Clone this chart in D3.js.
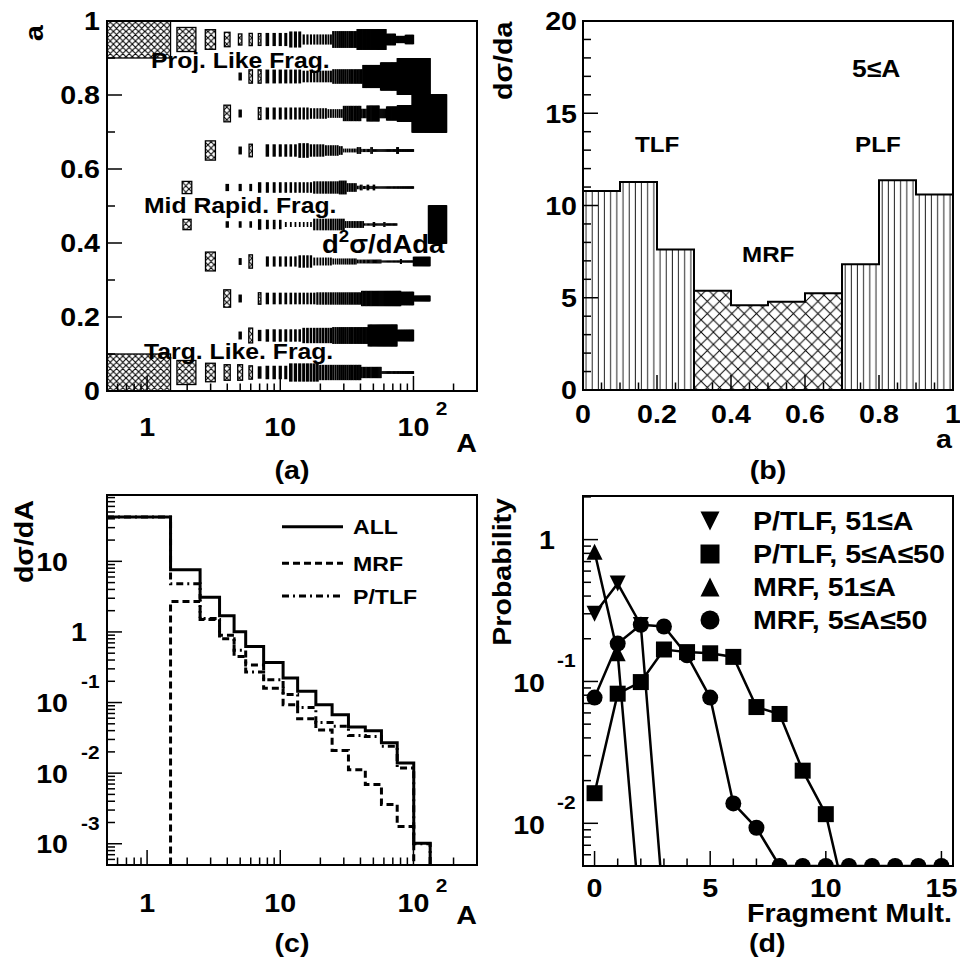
<!DOCTYPE html>
<html><head><meta charset="utf-8">
<script src="https://cdn.jsdelivr.net/npm/d3@7"></script>
<style>
body{margin:0;background:#fff}
svg{display:block}
text{font-family:"Liberation Sans",Arial,Helvetica,sans-serif;font-weight:bold;fill:#000}
</style>
</head><body>
<svg id="c" width="960" height="968"></svg>
<script>
// ---------------- DATA ----------------
// Panel (a): 2D box histogram, rows = a-bin centres, runs = [A from, A to, relative box size]
const aRowCentres = [0.05,0.15,0.25,0.35,0.45,0.55,0.65,0.75,0.85,0.95];
const row005 = [[1,1,1.0],[2,2,0.65],[3,3,0.5],[4,4,0.42],[5,5,0.42],[6,6,0.36],[7,7,0.3],[8,11,0.33],[12,19,0.46],[20,40,0.38],[41,57,0.27],[58,100,0.04]];
const row015 = [[5,5,0.18],[6,6,0.4],[7,7,0.27],[8,14,0.3],[15,24,0.38],[25,45,0.42],[46,75,0.56],[76,100,0.28]];
const row025 = [[4,4,0.47],[5,5,0.18],[7,7,0.31],[8,18,0.28],[19,40,0.3],[41,80,0.38],[81,100,0.33],[101,133,0.12]];
const row035 = [[3,3,0.51],[5,5,0.15],[6,6,0.36],[8,13,0.24],[14,17,0.3],[18,24,0.18],[25,37,0.13],[38,57,0.07],[58,79,0.02],[80,81,0.1],[82,99,0.02],[100,133,0.22]];
const row045 = [[2,2,0.28],[4,4,0.14],[5,5,0.14],[6,6,0.14],[7,7,0.25],[8,10,0.22],[11,17,0.1],[18,30,0.28],[31,42,0.15],[43,49,0.03],[50,51,0.1],[52,59,0.03],[60,61,0.1],[62,75,0.03],[130,177,1.0]];
const row055 = [[2,2,0.33],[4,4,0.16],[5,5,0.16],[6,6,0.16],[7,7,0.25],[8,17,0.25],[18,27,0.3],[28,31,0.34],[32,37,0.2],[38,39,0.06],[40,41,0.12],[42,44,0.05],[45,46,0.12],[47,49,0.05],[50,51,0.12],[52,100,0.03]];
const row065 = [[3,3,0.52],[5,5,0.18],[6,6,0.34],[8,13,0.3],[14,16,0.36],[17,21,0.3],[22,27,0.25],[28,29,0.2],[30,37,0.07],[38,40,0.15],[41,47,0.05],[48,49,0.15],[50,74,0.04],[75,77,0.15],[78,100,0.04]];
const row075 = [[4,4,0.45],[5,5,0.18],[7,7,0.32],[8,16,0.29],[17,22,0.25],[23,29,0.2],[30,40,0.38],[41,44,0.22],[45,55,0.4],[56,62,0.22],[63,75,0.35],[76,97,0.42],[98,177,1.0]];
const row085 = [[5,5,0.18],[6,6,0.36],[7,7,0.36],[8,14,0.34],[15,24,0.28],[25,41,0.36],[42,56,0.59],[57,75,0.73],[76,133,0.96]];
const row095 = [[1,1,1.0],[2,2,0.65],[3,3,0.53],[4,4,0.39],[5,5,0.3],[6,6,0.33],[7,7,0.32],[8,11,0.32],[12,14,0.4],[15,24,0.24],[25,37,0.42],[38,62,0.53],[63,73,0.28],[74,86,0.16],[87,100,0.22]];
const aRows = [row005,row015,row025,row035,row045,row055,row065,row075,row085,row095];

// Panel (b): dσ/da
const bEdges  = [0,0.1,0.2,0.3,0.4,0.5,0.6,0.7,0.8,0.9,1.0];
const bValues = [10.79,11.28,7.62,5.38,4.60,4.78,5.24,6.82,11.37,10.60];
const bClass  = ["TLF","TLF","TLF","MRF","MRF","MRF","MRF","PLF","PLF","PLF"];

// Panel (c): dσ/dA, variable A bins
const cEdges = [0.5,1.5,2.5,3.5,4.5,5.5,7.5,10.5,13.5,18.5,24.5,32.5,43.5,57.5,75.5,100.5,133.5,175.5,231.5,300];
const cAll   = [42.3,7.6,3.1,1.69,1.01,0.62,0.37,0.222,0.144,0.093,0.067,0.045,0.040,0.027,0.0139,0.00102,0,0,0];
const cMRF   = [0,2.7,1.5,0.8,0.45,0.34,0.16,0.093,0.059,0.041,0.021,0.0112,0.0069,0.0036,0.00176,0,0,0,0];
const cPTLF  = [42.3,4.8,1.55,0.9,0.55,0.27,0.21,0.13,0.085,0.052,0.046,0.034,0.033,0.024,0.0118,0.001,0,0,0];
const cLegend = ["ALL","MRF","P/TLF"];

// Panel (d): probability vs fragment multiplicity
const dPTLFheavy = [0.30,0.49,0.25,0.0024];                       // x = 0..3
const dPTLFlight = [0.0163,0.082,0.099,0.168,0.161,0.158,0.149,0.066,0.059,0.0235,0.0116,0.0023]; // x = 0..11
const dMRFheavy  = [0.82,0.158,0.002];                             // x = 0..2
const dMRFlight  = [0.077,0.185,0.251,0.244,0.153,0.077,0.0138,0.0093,0.005,0.005,0.005,0.005,0.005,0.005,0.005,0.005]; // x = 0..15
const dLegend = ["P/TLF, 51\u2264A","P/TLF, 5\u2264A\u226450","MRF, 51\u2264A","MRF, 5\u2264A\u226450"];

// ---------------- DRAWING ----------------
const svg = d3.select('#c');
const defs = svg.append('defs');
const SX = 1.1;

function xhatch(id, p, sw){
  const pt = defs.append('pattern').attr('id',id).attr('patternUnits','userSpaceOnUse').attr('width',p).attr('height',p);
  pt.append('rect').attr('width',p).attr('height',p).attr('fill','#fff');
  pt.append('path').attr('d',`M0,0L${p},${p}M0,${p}L${p},0M${-p/2},${p/2}L${p/2},${-p/2}M${p/2},${3*p/2}L${3*p/2},${p/2}`)
    .attr('stroke','#000').attr('stroke-width',sw);
}
xhatch('xhA', 6.3, 1.1);
xhatch('xhB', 12.3, 1);
(function(){
  const pt = defs.append('pattern').attr('id','vhB').attr('patternUnits','userSpaceOnUse').attr('width',6.17).attr('height',10).attr('x',583);
  pt.append('rect').attr('width',6.17).attr('height',10).attr('fill','#fff');
  pt.append('line').attr('x1',3).attr('x2',3).attr('y1',0).attr('y2',10).attr('stroke','#222').attr('stroke-width',1);
})();

function T(g, x, y, s, o={}){
  const size=o.size||26, anchor=o.anchor||'start', rot=o.rot||0;
  return g.append('text')
    .attr('transform',`translate(${x},${y}) rotate(${rot}) scale(${SX},1)`)
    .attr('font-size',size).attr('text-anchor',anchor).text(s);
}
function frame(g,f){
  g.append('rect').attr('x',f.x0).attr('y',f.y0).attr('width',f.x1-f.x0).attr('height',f.y1-f.y0)
   .attr('fill','none').attr('stroke','#000').attr('stroke-width',2);
}
function yTicks(g,f,scale,vals,isMajor){
  g.selectAll(null).data(vals).join('line')
   .attr('x1',f.x0).attr('x2',d=>f.x0+(isMajor(d)?15:8))
   .attr('y1',d=>scale(d)).attr('y2',d=>scale(d)).attr('stroke','#000').attr('stroke-width',1.5);
}
function xTicks(g,f,scale,vals,isMajor){
  g.selectAll(null).data(vals).join('line')
   .attr('y1',f.y1).attr('y2',d=>f.y1-(isMajor(d)?15:7.5))
   .attr('x1',d=>scale(d)).attr('x2',d=>scale(d)).attr('stroke','#000').attr('stroke-width',1.5);
}
const isDecade = v => Math.abs(Math.log10(v)-Math.round(Math.log10(v)))<1e-6;
function clip(id,f){
  defs.append('clipPath').attr('id',id).append('rect').attr('x',f.x0).attr('y',f.y0).attr('width',f.x1-f.x0).attr('height',f.y1-f.y0);
}

const FR = {
  a:{x0:107,x1:477,y0:21,y1:391},
  b:{x0:583,x1:953,y0:21,y1:390},
  c:{x0:107,x1:477,y0:495,y1:865},
  d:{x0:583,x1:953,y0:496,y1:866}
};

// ---------- Panel (a) ----------
(function(){
  const f = FR.a, g = svg.append('g');
  const x = d3.scaleLog().domain([0.5,300]).range([f.x0,f.x1]);
  const y = d3.scaleLinear().domain([0,1]).range([f.y1,f.y0]);
  const cells = [];
  aRows.forEach((runs,i)=>{
    const ac = aRowCentres[i];
    runs.forEach(([a0,a1,r])=>{ for(let A=a0;A<=a1;A++) cells.push({A,ac,r}); });
  });
  clip('clA',f);
  const bw = d => x(d.A+d.r/2)-x(d.A-d.r/2);
  g.append('g').attr('clip-path','url(#clA)').selectAll('rect').data(cells).join('rect')
    .attr('x',d=>x(d.A-d.r/2)).attr('width',bw)
    .attr('y',d=>y(d.ac+d.r*0.05)).attr('height',d=>y(d.ac-d.r*0.05)-y(d.ac+d.r*0.05))
    .attr('fill',d=>bw(d)<2.5?'#000':'url(#xhA)').attr('stroke','#000').attr('stroke-width',1.3);
  const xt = x.ticks(); xTicks(g,f,x,xt,isDecade);
  const yt = d3.range(0,11).map(i=>i/10); yTicks(g,f,y,yt,d=>Math.round(d*10)%2===0);
  frame(g,f);
  ["0","0.2","0.4","0.6","0.8","1"].forEach((s,i)=>T(g,f.x0-7,y(i*0.2)+9.4,s,{anchor:'end'}));
  T(g,x(1),436,"1",{anchor:'middle'});
  T(g,x(10),436,"10",{anchor:'middle'});
  T(g,x(100),436,"10",{anchor:'middle'});
  T(g,x(100)+28,415,"2",{anchor:'middle',size:19});
  T(g,f.x1,452,"A",{anchor:'end'});
  T(g,43,25,"a",{anchor:'end',rot:-90});
  T(g,292,479,"(a)",{anchor:'middle'});
  T(g,151,68,"Proj. Like Frag.",{size:22.5});
  T(g,144,213,"Mid Rapid. Frag.",{size:22.5});
  T(g,144,359,"Targ. Like. Frag.",{size:22.5});
  const t = T(g,322,253,"d",{size:25});
  t.append('tspan').attr('dy',-11).attr('font-size',17).text("2");
  t.append('tspan').attr('dy',11).text("\u03c3/dAda");
})();

// ---------- Panel (b) ----------
(function(){
  const f = FR.b, g = svg.append('g');
  const x = d3.scaleLinear().domain([0,1]).range([f.x0,f.x1]);
  const y = d3.scaleLinear().domain([0,20]).range([f.y1,f.y0]);
  const bins = bValues.map((v,i)=>({x0:bEdges[i],x1:bEdges[i+1],v,c:bClass[i]}));
  g.selectAll(null).data(bins).join('rect')
   .attr('x',d=>x(d.x0)).attr('width',d=>x(d.x1)-x(d.x0))
   .attr('y',d=>y(d.v)).attr('height',d=>y(0)-y(d.v))
   .attr('fill',d=>d.c==="MRF"?'url(#xhB)':'url(#vhB)');
  const groups = d3.groups(bins,d=>d.c);
  groups.forEach(([k,bs])=>{
    let p = `M${x(bs[0].x0)},${y(0)}`;
    bs.forEach(b=>{ p += `L${x(b.x0)},${y(b.v)}L${x(b.x1)},${y(b.v)}`; });
    p += `L${x(bs[bs.length-1].x1)},${y(0)}`;
    g.append('path').attr('d',p).attr('fill','none').attr('stroke','#000').attr('stroke-width',2);
  });
  yTicks(g,f,y,d3.range(0,21),d=>d%5===0);
  xTicks(g,f,x,d3.range(0,21).map(i=>i*0.05),d=>Math.abs(d*5-Math.round(d*5))<1e-6);
  frame(g,f);
  [0,5,10,15,20].forEach(v=>T(g,f.x0-6,y(v)+9.4,String(v),{anchor:'end'}));
  ["0","0.2","0.4","0.6","0.8","1"].forEach((s,i)=>T(g,x(i*0.2),423.4,s,{anchor:'middle'}));
  T(g,952,447.7,"a",{anchor:'end'});
  T(g,512,21.7,"d\u03c3/da",{anchor:'end',rot:-90});
  T(g,768,479,"(b)",{anchor:'middle'});
  T(g,852,77,"5\u2264A",{size:24});
  T(g,635,151.7,"TLF",{size:22});
  T(g,855,151.7,"PLF",{size:22});
  T(g,742,261.7,"MRF",{size:22});
})();

// ---------- Panel (c) ----------
(function(){
  const f = FR.c, g = svg.append('g');
  const x = d3.scaleLog().domain([0.5,300]).range([f.x0,f.x1]);
  const y = d3.scaleLog().domain([5e-4,87]).range([f.y1,f.y0]);
  clip('clC',f);
  const yv = v => v>0 ? y(v) : f.y1 + 2;
  function stepPath(vals){
    let p = `M${x(cEdges[0])},${yv(vals[0])}`;
    vals.forEach((v,i)=>{ p += `L${x(cEdges[i])},${yv(v)}L${x(cEdges[i+1])},${yv(v)}`; });
    return p;
  }
  const styles = [{v:cAll,dash:null},{v:cMRF,dash:'7,4'},{v:cPTLF,dash:'7,4,2,4'}];
  const pg = g.append('g').attr('clip-path','url(#clC)');
  styles.slice().reverse().forEach(s=>{
    pg.append('path').attr('d',stepPath(s.v)).attr('fill','none').attr('stroke','#000')
      .attr('stroke-width',3).attr('stroke-dasharray',s.dash);
  });
  const ly = [526.7,563.3,596];
  styles.forEach((s,i)=>{
    g.append('line').attr('x1',282).attr('x2',343).attr('y1',ly[i]).attr('y2',ly[i])
     .attr('stroke','#000').attr('stroke-width',3).attr('stroke-dasharray',s.dash);
    T(g,353,ly[i]+7.6,cLegend[i],{size:21});
  });
  xTicks(g,f,x,x.ticks(),isDecade);
  yTicks(g,f,y,y.ticks(),isDecade);
  frame(g,f);
  T(g,x(1),912,"1",{anchor:'middle'});
  T(g,x(10),912,"10",{anchor:'middle'});
  T(g,x(100),912,"10",{anchor:'middle'});
  T(g,x(100)+28,892,"2",{anchor:'middle',size:19});
  T(g,f.x1,924.4,"A",{anchor:'end'});
  T(g,68,y(10)+9.4,"10",{anchor:'end'});
  T(g,87,y(1)+9.4,"1",{anchor:'end'});
  [-1,-2,-3].forEach(e=>{
    T(g,68,y(Math.pow(10,e))+9.4,"10",{anchor:'end'});
    T(g,81,y(Math.pow(10,e))-21+6.8,String(e),{size:19});
  });
  T(g,33,500,"d\u03c3/dA",{anchor:'end',rot:-90});
  T(g,292,952,"(c)",{anchor:'middle'});
})();

// ---------- Panel (d) ----------
(function(){
  const f = FR.d, g = svg.append('g');
  const x = d3.scaleLinear().domain([-0.5,15.5]).range([f.x0,f.x1]);
  const y = d3.scaleLog().domain([0.005,2.03]).range([f.y1,f.y0]);
  clip('clD',f);
  const S = 16;
  const sym = {
    tdown: s=>`M${-s/2},${-s/2}L${s/2},${-s/2}L0,${s/2}Z`,
    tup:   s=>`M${-s/2},${s/2}L${s/2},${s/2}L0,${-s/2}Z`,
    square:s=>`M${-s/2},${-s/2}h${s}v${s}h${-s}Z`,
    circle:s=>d3.symbol(d3.symbolCircle, Math.PI*s*s/4)()
  };
  const series = [
    {v:dPTLFheavy,m:'tdown'},
    {v:dPTLFlight,m:'square'},
    {v:dMRFheavy,m:'tup'},
    {v:dMRFlight,m:'circle'}
  ];
  const pg = g.append('g').attr('clip-path','url(#clD)');
  const line = d3.line().x((d,i)=>x(i)).y(d=>y(d));
  series.forEach(s=>{
    pg.append('path').attr('d',line(s.v)).attr('fill','none').attr('stroke','#000').attr('stroke-width',2.5);
    pg.selectAll(null).data(s.v).join('path')
      .attr('transform',(d,i)=>`translate(${x(i)},${y(d)})`).attr('d',sym[s.m](S)).attr('fill','#000');
  });
  const ly = [521,554,587,620];
  series.forEach((s,i)=>{
    g.append('path').attr('transform',`translate(710,${ly[i]})`).attr('d',sym[s.m](19)).attr('fill','#000');
    T(g,753,ly[i]+9.4,dLegend[i],{size:26});
  });
  xTicks(g,f,x,d3.range(0,16),d=>d%5===0);
  yTicks(g,f,y,y.ticks(),isDecade);
  frame(g,f);
  [0,5,10,15].forEach(v=>T(g,x(v),897,String(v),{anchor:'middle'}));
  T(g,952,922,"Fragment Mult.",{anchor:'end'});
  T(g,555,y(1)+9.4,"1",{anchor:'end'});
  [-1,-2].forEach(e=>{
    T(g,545,y(Math.pow(10,e))+11,"10",{anchor:'end'});
    T(g,557,y(Math.pow(10,e))-21+6.8,String(e),{size:19});
  });
  T(g,511,498,"Probability",{anchor:'end',rot:-90});
  T(g,749,952,"(d)");
})();
</script>
</body></html>
